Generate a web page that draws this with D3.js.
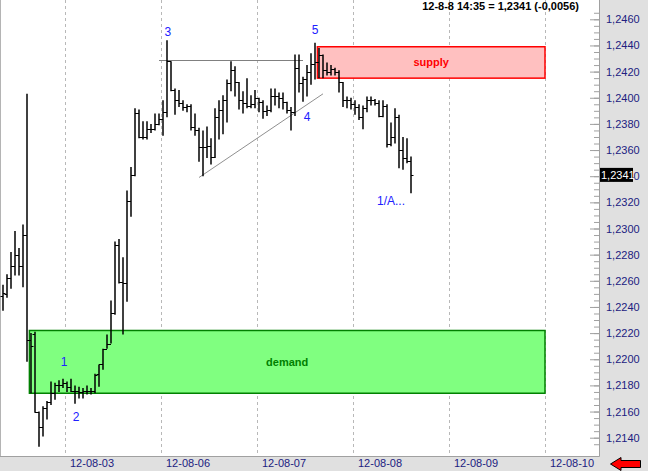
<!DOCTYPE html>
<html>
<head>
<meta charset="utf-8">
<script src="https://cdn.jsdelivr.net/npm/d3@7"></script>
<style>
body { margin:0; background:#fff; }
svg { display:block; font-family:"Liberation Sans", Arial, sans-serif; }
</style>
</head>
<body>
<div id="chart"></div>
<script>
var WD = 648, HT = 471
var plotRight = 599, plotBottom = 456

// hourly bars, 12-08-02 08:00 .. 12-08-08 14:00
var opens = [1.2248,1.2250,1.2262,1.2271,1.2280,1.2271,1.2295,1.2215,1.2219,1.2160,
  1.2148,1.2163,1.2167,1.2174,1.2180,1.2180,1.2182,1.2179,1.2176,1.2176,
  1.2175,1.2176,1.2176,1.2176,1.2189,1.2196,1.2208,1.2212,1.2235,1.2287,
  1.2259,1.2258,1.2321,1.2341,1.2388,1.2370,1.2370,1.2376,1.2376,1.2380,
  1.2384,1.2389,1.2428,1.2406,1.2398,1.2396,1.2393,1.2394,1.2378,1.2375,
  1.2362,1.2362,1.2363,1.2355,1.2385,1.2391,1.2398,1.2411,1.2421,1.2412,
  1.2398,1.2396,1.2394,1.2395,1.2400,1.2397,1.2390,1.2391,1.2401,1.2401,
  1.2400,1.2397,1.2391,1.2389,1.2423,1.2411,1.2414,1.2420,1.2426,1.2427,
  1.2433,1.2421,1.2420,1.2422,1.2420,1.2412,1.2398,1.2398,1.2395,1.2393,
  1.2385,1.2392,1.2398,1.2398,1.2396,1.2386,1.2394,1.2365,1.2370,1.2385,
  1.2360,1.2354,1.2352]
var highs = [1.2257,1.2265,1.2282,1.2298,1.2285,1.2303,1.2403,1.2220,1.2221,1.2160,
  1.2164,1.2168,1.2183,1.2182,1.2184,1.2185,1.2183,1.2185,1.2180,1.2179,
  1.2178,1.2180,1.2178,1.2189,1.2196,1.2208,1.2219,1.2245,1.2290,1.2292,
  1.2278,1.2329,1.2347,1.2392,1.2391,1.2382,1.2382,1.2380,1.2388,1.2388,
  1.2398,1.2444,1.2428,1.2407,1.2406,1.2398,1.2395,1.2395,1.2388,1.2377,
  1.2375,1.2378,1.2369,1.2392,1.2398,1.2402,1.2414,1.2428,1.2424,1.2412,
  1.2405,1.2415,1.2402,1.2406,1.2400,1.2398,1.2394,1.2407,1.2407,1.2404,
  1.2404,1.2397,1.2393,1.2433,1.2433,1.2416,1.2425,1.2434,1.2442,1.2438,
  1.2433,1.2427,1.2425,1.2423,1.2421,1.2412,1.2401,1.2400,1.2398,1.2395,
  1.2394,1.2401,1.2401,1.2399,1.2398,1.2398,1.2395,1.2381,1.2392,1.2387,
  1.2370,1.2369,1.2355]
var lows = [1.2237,1.2247,1.2254,1.2264,1.2264,1.2255,1.2198,1.2174,1.2159,1.2133,
  1.2141,1.2154,1.2165,1.2169,1.2175,1.2178,1.2175,1.2175,1.2166,1.2170,
  1.2170,1.2173,1.2173,1.2174,1.2179,1.2192,1.2208,1.2212,1.2234,1.2258,
  1.2219,1.2244,1.2309,1.2340,1.2369,1.2368,1.2368,1.2373,1.2375,1.2379,
  1.2371,1.2385,1.2405,1.2387,1.2393,1.2390,1.2389,1.2375,1.2371,1.2351,
  1.2340,1.2354,1.2349,1.2354,1.2368,1.2372,1.2381,1.2405,1.2401,1.2391,
  1.2388,1.2392,1.2392,1.2392,1.2389,1.2384,1.2386,1.2389,1.2394,1.2392,
  1.2391,1.2388,1.2375,1.2386,1.2404,1.2397,1.2401,1.2410,1.2414,1.2415,
  1.2415,1.2417,1.2417,1.2417,1.2404,1.2393,1.2392,1.2391,1.2387,1.2383,
  1.2376,1.2389,1.2394,1.2394,1.2385,1.2385,1.2362,1.2363,1.2365,1.2346,
  1.2345,1.2350,1.2327]
var closes = [1.2251,1.2262,1.2271,1.2280,1.2271,1.2295,1.2215,1.2210,1.2160,1.2148,
  1.2163,1.2167,1.2174,1.2180,1.2180,1.2182,1.2179,1.2176,1.2176,1.2175,
  1.2176,1.2176,1.2176,1.2188,1.2196,1.2208,1.2212,1.2235,1.2287,1.2259,
  1.2258,1.2321,1.2341,1.2388,1.2370,1.2370,1.2376,1.2376,1.2380,1.2384,
  1.2389,1.2428,1.2406,1.2398,1.2396,1.2393,1.2394,1.2378,1.2375,1.2362,
  1.2362,1.2363,1.2355,1.2385,1.2391,1.2398,1.2411,1.2421,1.2412,1.2398,
  1.2396,1.2394,1.2395,1.2400,1.2397,1.2390,1.2391,1.2401,1.2401,1.2400,
  1.2397,1.2391,1.2389,1.2423,1.2411,1.2414,1.2420,1.2426,1.2427,1.2433,
  1.2421,1.2420,1.2422,1.2420,1.2412,1.2398,1.2398,1.2395,1.2393,1.2385,
  1.2392,1.2398,1.2398,1.2396,1.2386,1.2394,1.2365,1.2370,1.2385,1.2360,
  1.2354,1.2352,1.2341]

// day start bar index and their labels
var dayStarts = [16, 40, 64, 88, 112, 136]
var dayLabels = ["12-08-03", "12-08-06", "12-08-07", "12-08-08", "12-08-09", "12-08-10"]

var yTicks = [1.2140,1.2160,1.2180,1.2200,1.2220,1.2240,1.2260,1.2280,1.2300,
  1.2320,1.2340,1.2360,1.2380,1.2400,1.2420,1.2440,1.2460]

// zones: [startIndex, endIndex, top, bottom]
var supplyZone = [78.6, 135.5, 1.2439, 1.2415]
var demandZone = [6.6, 135.5, 1.2222, 1.2174]

// trend lines: [i1, v1, i2, v2]
var resistLine = [39, 1.2429, 75, 1.2429]
var supportLine = [49, 1.2339, 80, 1.2403]

// wave labels
var waveText = ["1", "2", "3", "4", "5", "1/A..."]
var waveIdx = [15.25, 18.25, 41.2, 76, 78, 97]
var waveVal = [1.2198, 1.2156, 1.2450, 1.2385, 1.2452, 1.2321]

var lastPrice = 1.2341, change = -0.0056
var headline = "12-8-8 14:35 = 1,2341 (-0,0056)"

var fmt = function(v){ return d3.format(".4f")(v).replace(".", ",") }

var x = d3.scaleLinear().domain([-0.5, 149]).range([1, plotRight])
var y = d3.scaleLinear().domain([1.2140, 1.2460]).range([437.7, 19.3])

var svg = d3.select("#chart").append("svg")
    .attr("width", WD)
    .attr("height", HT)

// panels
svg.append("rect").attr("x",0).attr("y",0).attr("width",WD).attr("height",HT).attr("fill","#e0e0e0")
svg.append("rect").attr("x",1).attr("y",0).attr("width",plotRight-1).attr("height",plotBottom).attr("fill","#fff")
svg.append("line").attr("x1",0.5).attr("x2",0.5).attr("y1",0).attr("y2",plotBottom)
    .attr("stroke","#b4b4b4")
svg.append("line").attr("x1",plotRight+0.5).attr("x2",plotRight+0.5).attr("y1",0).attr("y2",plotBottom+0.5)
    .attr("stroke","#a0a0a0")
svg.append("line").attr("x1",0).attr("x2",plotRight+0.5).attr("y1",plotBottom+0.5).attr("y2",plotBottom+0.5)
    .attr("stroke","#a0a0a0")

// day grid
svg.selectAll(".grid").data(dayStarts).enter().append("line")
    .attr("x1", function(d){ return Math.round(x(d-0.5))+0.5 })
    .attr("x2", function(d){ return Math.round(x(d-0.5))+0.5 })
    .attr("y1", 0).attr("y2", plotBottom)
    .attr("stroke", "#b8b8b8")
    .attr("stroke-dasharray", "3,3")

svg.selectAll(".dlab").data(dayLabels).enter().append("text")
    .attr("x", function(d,i){ return Math.round(x(dayStarts[i]-0.5))+5 })
    .attr("y", 467)
    .attr("font-size", "11px")
    .attr("fill", "#202080")
    .text(function(d){ return d })

// zones
function zone(z, fill, stroke, label, color){
  var g = svg.append("g")
  g.append("rect")
    .attr("x", x(z[0])).attr("y", y(z[2]))
    .attr("width", x(z[1]) - x(z[0])).attr("height", y(z[3]) - y(z[2]))
    .attr("fill", fill).attr("stroke", stroke).attr("stroke-width", 1.5)
  g.append("text")
    .attr("x", (x(z[0]) + x(z[1]))/2).attr("y", (y(z[2]) + y(z[3]))/2)
    .attr("text-anchor","middle").attr("dominant-baseline","central")
    .attr("font-size","11px").attr("font-weight","bold").attr("fill",color)
    .text(label)
}
zone(demandZone, "#80ff80", "#008000", "demand", "#008000")
zone(supplyZone, "#ffc0c0", "#ff0000", "supply", "#ff0000")

// trend lines
svg.append("line")
    .attr("x1", x(resistLine[0])).attr("y1", Math.round(y(resistLine[1]))+0.5)
    .attr("x2", x(resistLine[2])).attr("y2", Math.round(y(resistLine[3]))+0.5)
    .attr("stroke", "#808080")
svg.append("line")
    .attr("x1", x(supportLine[0])).attr("y1", y(supportLine[1]))
    .attr("x2", x(supportLine[2])).attr("y2", y(supportLine[3]))
    .attr("stroke", "#909090")

// ohlc bars
var bars = svg.append("g").attr("stroke", "#000")
bars.selectAll(".hl").data(highs).enter().append("line")
    .attr("x1", function(d,i){ return x(i) }).attr("x2", function(d,i){ return x(i) })
    .attr("y1", function(d){ return y(d) }).attr("y2", function(d,i){ return y(lows[i]) })
    .attr("stroke-width", 1.5)
bars.selectAll(".op").data(opens).enter().append("line")
    .attr("x1", function(d,i){ return x(i) - 2.5 }).attr("x2", function(d,i){ return x(i) })
    .attr("y1", function(d){ return Math.round(y(d))+0.5 }).attr("y2", function(d){ return Math.round(y(d))+0.5 })
bars.selectAll(".cl").data(closes).enter().append("line")
    .attr("x1", function(d,i){ return x(i) }).attr("x2", function(d,i){ return x(i) + 2.5 })
    .attr("y1", function(d){ return Math.round(y(d))+0.5 }).attr("y2", function(d){ return Math.round(y(d))+0.5 })

// wave labels
svg.selectAll(".wave").data(waveText).enter().append("text")
    .attr("x", function(d,i){ return x(waveIdx[i]) })
    .attr("y", function(d,i){ return y(waveVal[i]) })
    .attr("text-anchor","middle").attr("dominant-baseline","central")
    .attr("font-size","12px").attr("fill","#2020ff")
    .text(function(d){ return d })

// y axis ticks
var minor = d3.range(1.2135, 1.2466, 0.0005)
svg.append("g").attr("transform","translate("+plotRight+",0)")
    .call(d3.axisLeft(y).tickValues(minor).tickSize(5).tickFormat(""))
    .call(function(g){ g.select(".domain").remove(); g.selectAll("line").attr("stroke","#a0a0a0") })
svg.append("g").attr("transform","translate("+plotRight+",0)")
    .call(d3.axisLeft(y).tickValues(yTicks).tickSize(9).tickFormat(""))
    .call(function(g){ g.select(".domain").remove(); g.selectAll("line").attr("stroke","#a0a0a0") })

svg.selectAll(".ylab").data(yTicks).enter().append("text")
    .attr("x", 606).attr("y", function(d){ return y(d) })
    .attr("dominant-baseline","central")
    .attr("font-size","11px").attr("fill","#202080")
    .text(fmt)

// last price box
svg.append("rect").attr("x", 600).attr("y", y(lastPrice)-7).attr("width", 33).attr("height", 14).attr("fill","#000")
svg.append("text").attr("x", 601).attr("y", y(lastPrice))
    .attr("dominant-baseline","central")
    .attr("font-size","11px").attr("fill","#fff")
    .text(fmt(lastPrice))

// headline
svg.append("text").attr("x", 579).attr("y", 10)
    .attr("text-anchor","end")
    .attr("font-size","11px").attr("font-weight","bold").attr("fill","#000")
    .text(headline)

// scroll arrow
svg.append("path")
    .attr("d", "M610.5,464 L621,457.5 L621,460.5 L640.5,460.5 L640.5,467.5 L621,467.5 L621,470.5 Z")
    .attr("fill", "#ff0000").attr("stroke", "#000")
</script>
</body>
</html>
